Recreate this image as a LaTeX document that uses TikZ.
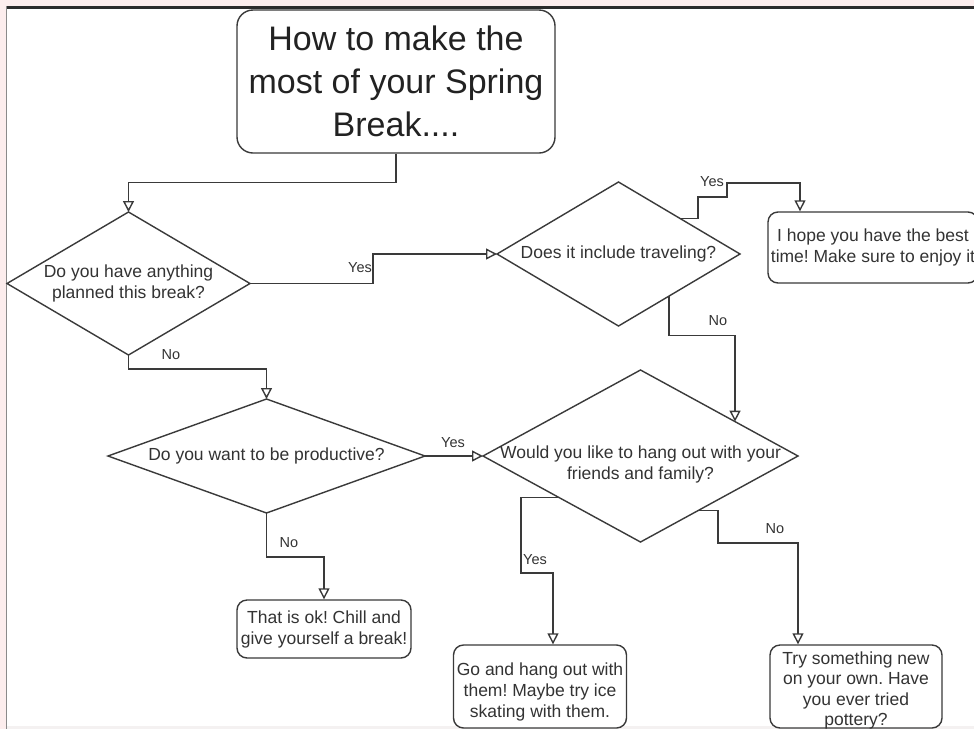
\documentclass[tikz,border=0pt]{standalone}
\usepackage{fontspec}
\setmainfont{Liberation Sans}
\frenchspacing
\usetikzlibrary{shapes.geometric,arrows.meta}
\definecolor{ink}{HTML}{333333}
\definecolor{titleink}{HTML}{222222}
\definecolor{edge}{HTML}{3A3A3A}
\definecolor{pinkbg}{HTML}{FCEDED}
\definecolor{topbar}{HTML}{2B2B2B}
\definecolor{sidebar}{HTML}{8A8A8A}
\definecolor{bottomstrip}{HTML}{F4F1F1}
\begin{document}
\begin{tikzpicture}[x=1pt,y=-1pt,
  txt/.style={font=\fontsize{17.5}{21}\selectfont, text=ink},
  tag/.style={font=\fontsize{14.5}{17}\selectfont, text=ink, inner sep=0pt},
  rbox/.style={draw=edge, line width=1.4pt, rounded corners=10pt, fill=white,
    align=center, inner sep=0pt, txt},
  dia/.style={diamond, draw=edge, line width=1.4pt, fill=white, inner sep=0pt, outer sep=0pt},
  dlabel/.style={txt, align=center, inner sep=0pt},
  conn/.style={draw=edge, line width=1.4pt, -{Triangle[open,length=11pt,width=11pt]}},
]
\clip (0,0) rectangle (974,729);
% screenshot frame
\fill[pinkbg] (0,0) rectangle (974,729);
\fill[white] (7,9) rectangle (974,726);
\fill[bottomstrip] (7,726) rectangle (974,729);
\draw[topbar, line width=3pt] (6,7.3) -- (974,7.3);
\draw[sidebar, line width=1.5pt] (6.3,6) -- (6.3,729);

% nodes
\node[rbox, rounded corners=16pt, minimum width=318pt, minimum height=143pt,
  font=\fontsize{34}{43}\selectfont, text=titleink] (title) at (396,81.5)
  {How to make the\\most of your Spring\\Break....};

\node[dia, minimum width=243pt, minimum height=143pt,
  label={[dlabel]center:Do you have anything\\planned this break?}] (d1) at (128.5,283.5) {};
\node[dia, minimum width=243pt, minimum height=144pt,
  label={[dlabel]center:Does it include traveling?}] (d2) at (618.5,254) {};
\node[dia, minimum width=317pt, minimum height=114pt,
  label={[dlabel]center:Do you want to be productive?}] (d4) at (266.5,456) {};
\node[dia, minimum width=315pt, minimum height=172pt,
  label={[dlabel, yshift=-8pt]center:Would you like to hang out with your\\friends and family?}] (d3) at (640.5,456) {};

\node[rbox, minimum width=210pt, minimum height=71pt] (hope) at (873,247.5)
  {I hope you have the best\\time! Make sure to enjoy it};
\node[rbox, minimum width=174pt, minimum height=58pt] (chill) at (324,629)
  {That is ok! Chill and\\give yourself a break!};
\node[rbox, minimum width=173pt, minimum height=83pt,
  label={[dlabel, yshift=-5pt]center:Go and hang out with\\them! Maybe try ice\\skating with them.}] (go) at (540,686.5) {};
\node[rbox, minimum width=172pt, minimum height=83pt,
  label={[dlabel, yshift=-4pt, font=\fontsize{17.5}{20.5}\selectfont]center:Try something new\\on your own. Have\\you ever tried\\pottery?}] (try) at (856,686.5) {};

\coordinate (hx) at (800,0);
\coordinate (gx) at (553,0);
\coordinate (tx) at (798,0);

% connectors
\draw[conn] (title.south) -- ++(0,29) -| (d1.north);
\draw[conn] (d1.east) -- (373,283.5) |- (d2.west);
\draw[conn] (d1.south) -- ++(0,14) -| (d4.north);
\draw[conn] (d2.30) -| (698,197) -| (727,183) -| (hope.north -| hx);
\draw[conn] (d2.-40) -- ++(0,39) -| (d3.20);
\draw[conn] (d4.east) -- (d3.west);
\draw[conn] (d4.south) -- ++(0,44) -| (chill.north);
\draw[conn] (d3.207) -| (521,573) -| (go.north -| gx);
\draw[conn] (d3.-43) -| (718,543) -| (try.north -| tx);

% connector labels
\node[tag] (yes1) at (360,268) {Yes};
\node[tag] (no1) at (171,355) {No};
\node[tag] (yes2) at (712,182) {Yes};
\node[tag] (no2) at (718,321) {No};
\node[tag] (yes3) at (453,443) {Yes};
\node[tag] (no3) at (289,543) {No};
\node[tag] (yes4) at (535,560) {Yes};
\node[tag] (no4) at (775,529) {No};
\end{tikzpicture}
\end{document}
